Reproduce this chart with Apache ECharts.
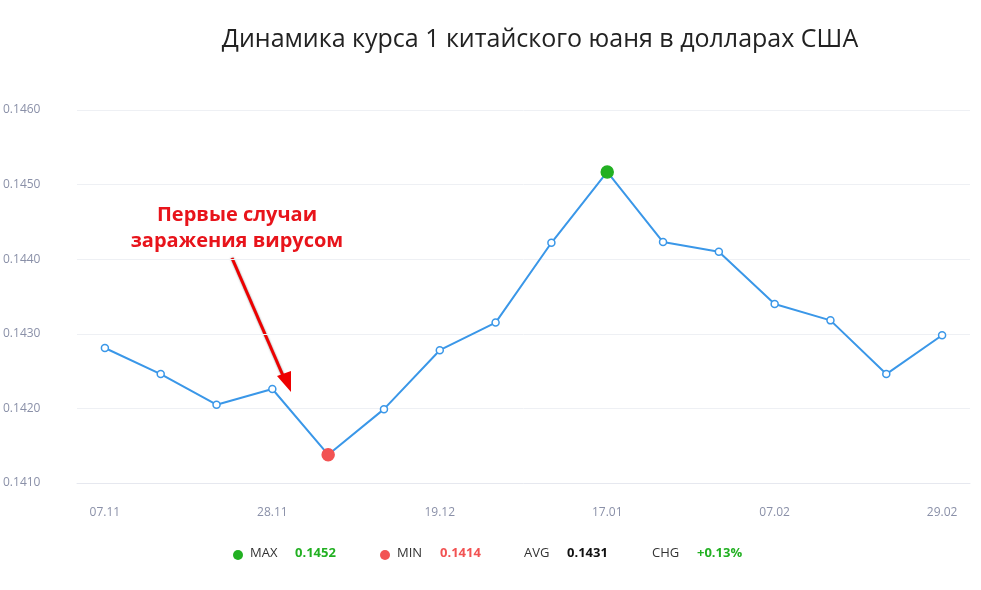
<!DOCTYPE html>
<html><head><meta charset="utf-8">
<script src="https://cdn.jsdelivr.net/npm/echarts@6/dist/echarts.min.js"></script>
<style>html,body{margin:0;padding:0;background:#fff}#c{width:981px;height:590px}</style>
</head><body><div id="c"></div>
<script>
const categories = ['07.11','14.11','21.11','28.11','05.12','12.12','19.12','26.12','09.01','17.01','24.01','31.01','07.02','14.02','21.02','29.02'];
const values = [0.14281,0.14246,0.14205,0.14226,0.14138,0.14199,0.14278,0.14315,0.14422,0.14517,0.14423,0.14410,0.14340,0.14318,0.14246,0.14298];
const statLabels = ['MAX','MIN','AVG','CHG'];
const statValues = ['0.1452','0.1414','0.1431','+0.13%'];
const maxIdx = values.indexOf(Math.max(...values));
const minIdx = values.indexOf(Math.min(...values));
const data = values.map((v,i)=>{
  if(i===maxIdx) return {value:v,symbolSize:12,itemStyle:{color:'#22b022',borderColor:'#22b022'}};
  if(i===minIdx) return {value:v,symbolSize:12,itemStyle:{color:'#f25353',borderColor:'#f25353'}};
  return v;
});
const chart = echarts.init(document.getElementById('c'));
const F='"Open Sans", "Noto Sans", sans-serif';
chart.setOption({
  animation:false,
  title:{text:'Динамика курса 1 китайского юаня в долларах США',left:535,top:22,textAlign:'center',
    textStyle:{fontFamily:F,fontSize:25,fontWeight:500,color:'#222'}},
  grid:{left:74,right:11,top:110,bottom:107},
  xAxis:{type:'category',data:categories,boundaryGap:true,
    axisLine:{lineStyle:{color:'#e6e8ef'}},axisTick:{show:false},
    axisLabel:{interval:2,color:'#8a90a8',fontFamily:F,fontSize:12,margin:24}},
  yAxis:{type:'value',min:0.141,max:0.146,interval:0.001,
    axisLine:{show:false},axisTick:{show:false},
    splitLine:{lineStyle:{color:'#eef0f4'}},
    axisLabel:{formatter:v=>v.toFixed(4),color:'#8a90a8',fontFamily:F,fontSize:12,margin:14,align:'left',padding:[0,0,0,-60]}},
  series:[{type:'line',data:data,symbol:'circle',symbolSize:7,
    lineStyle:{color:'#3a97e8',width:2},
    itemStyle:{color:'#fff',borderColor:'#3a97e8',borderWidth:1.5}}],
  graphic:[
    {type:'text',left:'center',x:0,style:{}},
    {type:'text',x:237,y:202,style:{text:'Первые случаи\nзаражения вирусом',align:'center',fill:'#e8141b',
      font:'bold 20px '+F,lineHeight:26,stroke:'#fff',lineWidth:3,shadowBlur:3,shadowColor:'rgba(0,0,0,0.6)',shadowOffsetX:1,shadowOffsetY:1}},
    {type:'line',shape:{x1:232,y1:258,x2:284,y2:378},style:{stroke:'#e00',lineWidth:3,shadowBlur:2,shadowColor:'rgba(0,0,0,0.5)'}},
    {type:'polygon',shape:{points:[[291,392],[277,376],[291,371]]},style:{fill:'#e00'}},
    {type:'circle',shape:{cx:238,cy:555,r:5},style:{fill:'#22b022'}},
    {type:'text',x:250,y:547,style:{text:statLabels[0],fill:'#333',font:'13px '+F}},
    {type:'text',x:295,y:547,style:{text:statValues[0],fill:'#22b022',font:'bold 13px '+F}},
    {type:'circle',shape:{cx:385,cy:555,r:5},style:{fill:'#f25353'}},
    {type:'text',x:397,y:547,style:{text:statLabels[1],fill:'#333',font:'13px '+F}},
    {type:'text',x:440,y:547,style:{text:statValues[1],fill:'#f25353',font:'bold 13px '+F}},
    {type:'text',x:524,y:547,style:{text:statLabels[2],fill:'#333',font:'13px '+F}},
    {type:'text',x:567,y:547,style:{text:statValues[2],fill:'#111',font:'bold 13px '+F}},
    {type:'text',x:652,y:547,style:{text:statLabels[3],fill:'#333',font:'13px '+F}},
    {type:'text',x:697,y:547,style:{text:statValues[3],fill:'#22b022',font:'bold 13px '+F}}
  ]
});
</script></body></html>
